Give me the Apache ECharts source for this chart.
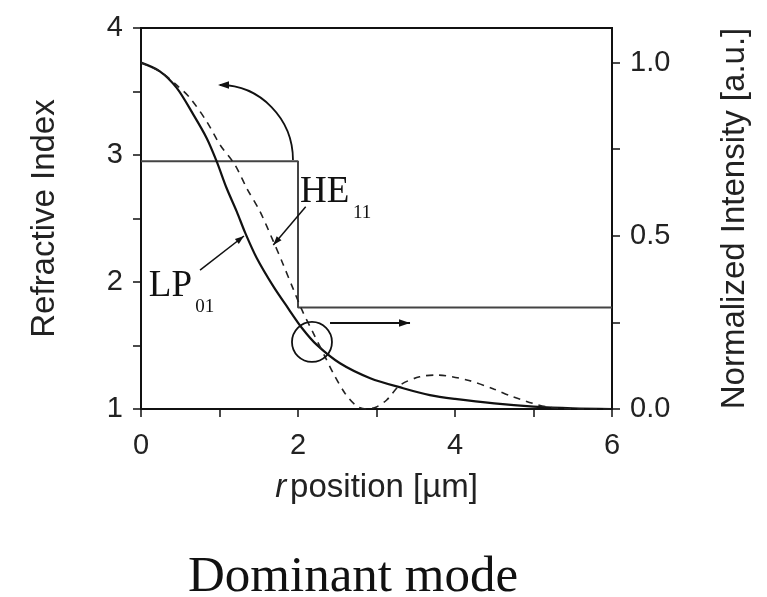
<!DOCTYPE html>
<html>
<head>
<meta charset="utf-8">
<script src="https://cdn.jsdelivr.net/npm/echarts@6/dist/echarts.min.js"></script>
<style>
html,body{margin:0;padding:0;background:#fff;}
#chart{width:767px;height:597px;}
</style>
</head>
<body>
<div id="chart"></div>
<script>
// Refractive index profile (step)
const indexR = [0, 2, 2, 6];
const indexN = [2.95, 2.95, 1.80, 1.80];
// LP01 (solid) normalized intensity
const lpR = [0, 0.24, 0.455, 0.667, 0.837, 0.964, 1.09, 1.22, 1.325, 1.474, 1.686, 1.877, 2.05, 2.24, 2.535, 2.92, 3.34, 3.68, 4.0, 4.5, 5.0, 5.5, 6.0];
const lpI = [1.0, 0.975, 0.927, 0.85, 0.782, 0.715, 0.638, 0.57, 0.51, 0.436, 0.354, 0.29, 0.234, 0.185, 0.132, 0.089, 0.06, 0.04, 0.029, 0.016, 0.007, 0.002, 0.0];
// HE11 (dashed) normalized intensity
const heR = [0, 0.24, 0.455, 0.624, 0.837, 1.006, 1.197, 1.346, 1.516, 1.686, 1.81, 1.94, 2.05, 2.195, 2.344, 2.45, 2.6, 2.75, 2.88, 3.0, 3.13, 3.3, 3.55, 3.77, 4.15, 4.5, 4.74, 5.17, 5.6, 6.0];
const heI = [1.0, 0.975, 0.935, 0.898, 0.83, 0.763, 0.705, 0.638, 0.57, 0.484, 0.418, 0.346, 0.286, 0.219, 0.151, 0.103, 0.045, 0.008, 0.0, 0.006, 0.026, 0.069, 0.093, 0.098, 0.084, 0.057, 0.035, 0.006, 0.0, 0.0];
// Tick labels
const xTickLabels = ['0', '2', '4', '6'];
const leftTickLabels = ['1', '2', '3', '4'];
const rightTickLabels = ['0.0', '0.5', '1.0'];

const zip = (a, b) => a.map((v, i) => [v, b[i]]);
const sans = 'Liberation Sans';
const serif = 'Liberation Serif';

const chart = echarts.init(document.getElementById('chart'), null, {renderer: 'canvas'});
const option = {
  backgroundColor: '#fff',
  animation: false,
  title: {
    text: 'Dominant mode',
    left: 183, top: 547,
    textStyle: {fontFamily: serif, fontSize: 51, fontWeight: 'normal', color: '#111'}
  },
  grid: {left: 141, right: 155, top: 28, bottom: 188, show: true, borderColor: '#111', borderWidth: 2, backgroundColor: 'transparent'},
  xAxis: {
    type: 'value', min: 0, max: 6, interval: 1,
    name: '{i|r}position [µm]', nameLocation: 'middle', nameGap: 62,
    nameTextStyle: {fontFamily: sans, fontSize: 33, color: '#222', rich: {i: {fontFamily: sans, fontSize: 33, fontStyle: 'italic', color: '#222', padding: [0, 4, 0, 0]}}},
    axisLine: {lineStyle: {color: '#111', width: 2}},
    axisTick: {inside: false, length: 8, lineStyle: {color: '#111', width: 1.5}},
    splitLine: {show: false},
    axisLabel: {fontFamily: sans, fontSize: 29, color: '#222', margin: 22,
      formatter: v => (v % 2 === 0 ? xTickLabels[v / 2] : '')}
  },
  yAxis: [{
    type: 'value', min: 1, max: 4, interval: 0.5, position: 'left',
    name: 'Refractive Index', nameLocation: 'middle', nameGap: 80, nameRotate: 90,
    nameTextStyle: {fontFamily: sans, fontSize: 33, color: '#222'},
    axisLine: {show: true, lineStyle: {color: '#111', width: 2}},
    axisTick: {show: true, inside: false, length: 8, lineStyle: {color: '#111', width: 1.5}},
    splitLine: {show: false},
    axisLabel: {fontFamily: sans, fontSize: 29, color: '#222', margin: 18,
      formatter: v => (Number.isInteger(v) ? leftTickLabels[v - 1] : '')}
  }, {
    type: 'value', min: 0, max: 1.1, interval: 0.25, position: 'right',
    name: 'Normalized Intensity [a.u.]', nameLocation: 'middle', nameGap: 106, nameRotate: 90,
    nameTextStyle: {fontFamily: sans, fontSize: 33, color: '#222'},
    axisLine: {show: true, lineStyle: {color: '#111', width: 2}},
    axisTick: {show: true, inside: false, length: 8, lineStyle: {color: '#111', width: 1.5}},
    splitLine: {show: false},
    axisLabel: {fontFamily: sans, fontSize: 29, color: '#222', margin: 18, showMaxLabel: false,
      formatter: v => {
        const k = Math.round(v * 2);
        return Math.abs(v * 2 - k) < 1e-6 ? (rightTickLabels[k] || '') : '';
      }}
  }],
  series: [{
    name: 'Index', type: 'line', yAxisIndex: 0, data: zip(indexR, indexN),
    symbol: 'none', lineStyle: {color: '#444', width: 2}, z: 2
  }, {
    name: 'LP01', type: 'line', yAxisIndex: 1, data: zip(lpR, lpI),
    symbol: 'none', smooth: 0.3, lineStyle: {color: '#111', width: 2.2}, z: 3
  }, {
    name: 'HE11', type: 'line', yAxisIndex: 1, data: zip(heR, heI),
    symbol: 'none', smooth: 0.3, lineStyle: {color: '#222', width: 1.6, type: [7, 6]}, z: 3
  }]
};
chart.setOption(option);

// Annotations, positioned in data coordinates (r, refractive index)
const P = (x, n) => chart.convertToPixel({xAxisIndex: 0, yAxisIndex: 0}, [x, n]);
function arrowHead(tip, from, size) {
  const dx = tip[0] - from[0], dy = tip[1] - from[1];
  const L = Math.sqrt(dx * dx + dy * dy), ux = dx / L, uy = dy / L;
  const bx = tip[0] - ux * size, by = tip[1] - uy * size;
  const w = size * 0.35;
  return {type: 'polygon', shape: {points: [tip, [bx - uy * w, by + ux * w], [bx + uy * w, by - ux * w]]}, style: {fill: '#111'}, z: 10};
}
const els = [];
// HE11 label and arrow
const heT = P(2.025, 2.85), heS = P(2.70, 2.62);
els.push({type: 'text', x: heT[0], y: heT[1], style: {text: 'HE', font: '37px "Liberation Serif"', fill: '#111'}, z: 10});
els.push({type: 'text', x: heS[0], y: heS[1], style: {text: '11', font: '19px "Liberation Serif"', fill: '#111'}, z: 10});
const ha = P(2.098, 2.593), hb = P(1.685, 2.291);
els.push({type: 'line', shape: {x1: ha[0], y1: ha[1], x2: hb[0], y2: hb[1]}, style: {stroke: '#111', lineWidth: 1.5}, z: 10});
els.push(arrowHead(hb, ha, 9));
// LP01 label and arrow
const lpT = P(0.10, 2.11), lpS = P(0.69, 1.88);
els.push({type: 'text', x: lpT[0], y: lpT[1], style: {text: 'LP', font: '37px "Liberation Serif"', fill: '#111'}, z: 10});
els.push({type: 'text', x: lpS[0], y: lpS[1], style: {text: '01', font: '19px "Liberation Serif"', fill: '#111'}, z: 10});
const la = P(0.752, 2.094), lb = P(1.312, 2.362);
els.push({type: 'line', shape: {x1: la[0], y1: la[1], x2: lb[0], y2: lb[1]}, style: {stroke: '#111', lineWidth: 1.5}, z: 10});
els.push(arrowHead(lb, la, 9));
// Curved arrow (index -> left axis)
const cs = P(1.936, 2.961), ce = P(1.006, 3.551);
const rx = cs[0] - ce[0], ry = cs[1] - ce[1];
els.push({type: 'bezierCurve', shape: {x1: cs[0], y1: cs[1], cpx1: cs[0], cpy1: cs[1] - ry * 0.55, cpx2: ce[0] + rx * 0.55, cpy2: ce[1], x2: ce[0], y2: ce[1]}, style: {stroke: '#111', lineWidth: 1.8, fill: null}, z: 10});
els.push(arrowHead([ce[0] - 2, ce[1]], [ce[0] + 10, ce[1]], 11));
// Circle and horizontal arrow (intensity -> right axis)
const cc = P(2.178, 1.528);
els.push({type: 'circle', shape: {cx: cc[0], cy: cc[1], r: 20}, style: {stroke: '#111', lineWidth: 1.8, fill: null}, z: 10});
const aa = P(2.408, 1.677), ab = P(3.427, 1.677);
els.push({type: 'line', shape: {x1: aa[0], y1: aa[1], x2: ab[0], y2: ab[1]}, style: {stroke: '#111', lineWidth: 1.8}, z: 10});
els.push(arrowHead(ab, aa, 11));
chart.setOption({graphic: {elements: els}});
</script>
</body>
</html>
